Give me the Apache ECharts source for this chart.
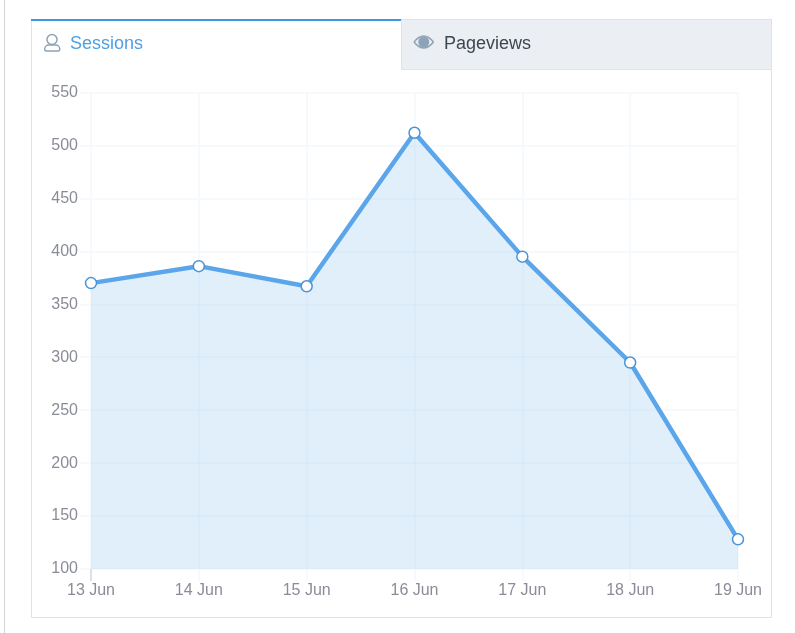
<!DOCTYPE html>
<html><head><meta charset="utf-8">
<style>html,body{margin:0;padding:0;background:#fff}#c{width:795px;height:633px}</style>
<script src="https://cdn.jsdelivr.net/npm/echarts@6/dist/echarts.min.js"></script>
</head><body><div id="c"></div>
<script>
const categories = ['13 Jun','14 Jun','15 Jun','16 Jun','17 Jun','18 Jun','19 Jun'];
const sessions = [370,386,367,512,395,295,128];
const tabLabels = ['Sessions','Pageviews'];
const font = '"Liberation Sans", Arial, sans-serif';
const gridColor = '#f5f8fc';
const chart = echarts.init(document.getElementById('c'), null, {renderer:'canvas'});
const option = {
  animation:false,
  grid:{left:91,top:92.5,width:647,height:476.5,containLabel:false,show:false},
  xAxis:{type:'category',data:categories,boundaryGap:false,
    axisLine:{show:false},
    axisTick:{show:true,alignWithLabel:true,length:12,lineStyle:{color:gridColor,width:1.5}},
    axisLabel:{color:'#8a8d98',fontFamily:font,fontSize:16,margin:14,showMinLabel:true,showMaxLabel:true,hideOverlap:false,interval:0},
    splitLine:{show:true,lineStyle:{color:gridColor,width:1.5}}},
  yAxis:{type:'value',min:100,max:550,interval:50,
    axisLine:{show:false},
    axisTick:{show:true,length:11,lineStyle:{color:gridColor,width:1.5}},
    axisLabel:{color:'#8a8d98',fontFamily:font,fontSize:16,margin:13},
    splitLine:{show:true,lineStyle:{color:gridColor,width:1.5}}},
  series:[{type:'line',data:sessions,showSymbol:true,symbol:'circle',symbolSize:11,
    lineStyle:{color:'#5ba6ea',width:4.5},
    itemStyle:{color:'#fff',borderColor:'#4a94d8',borderWidth:1.5},
    areaStyle:{color:'#5ba6ea',opacity:0.18,origin:'start'},z:3}],
  graphic:[]
};
chart.setOption(option);
const x0 = chart.convertToPixel({xAxisIndex:0},categories[0]);
const yB = chart.convertToPixel({yAxisIndex:0},100);
const iconGray='#8ea3b7';
const stroke={fill:'none',stroke:iconGray,lineWidth:1.5};
chart.setOption({graphic:[
  {type:'rect',z:-1,silent:true,shape:{x:4,y:0,width:1,height:633},style:{fill:'#d4d4d8'}},
  {type:'rect',z:-1,silent:true,shape:{x:31.5,y:19.5,width:740,height:598},style:{fill:'#fff',stroke:'#dbe3ec',lineWidth:1}},
  {type:'rect',z:-1,silent:true,shape:{x:401.5,y:19.5,width:370,height:50},style:{fill:'#ebeef3',stroke:'#dbe3ec',lineWidth:1}},
  {type:'rect',z:5,silent:true,shape:{x:31,y:19,width:370,height:2},style:{fill:'#3d98e0'}},
  {type:'text',z:5,silent:true,x:70,y:44,style:{text:tabLabels[0],fill:'#4f9fe3',font:'18px '+font,verticalAlign:'middle'}},
  {type:'text',z:5,silent:true,x:444,y:44,style:{text:tabLabels[1],fill:'#3f4650',font:'18px '+font,verticalAlign:'middle'}},
  {type:'circle',z:5,silent:true,shape:{cx:52,cy:39.5,r:5},style:stroke},
  {type:'rect',z:5,silent:true,shape:{x:44.75,y:45,width:15,height:6,r:[4,4,1.5,1.5]},style:stroke},
  {type:'bezierCurve',z:5,silent:true,shape:{x1:414,y1:42,x2:433.5,y2:42,cpx1:423.75,cpy1:30},style:stroke},
  {type:'bezierCurve',z:5,silent:true,shape:{x1:414,y1:42,x2:433.5,y2:42,cpx1:423.75,cpy1:54},style:stroke},
  {type:'circle',z:5,silent:true,shape:{cx:423.75,cy:42,r:5.5},style:{fill:iconGray}},
  {type:'rect',z:5,silent:true,shape:{x:x0-0.5,y:yB,width:1,height:12},style:{fill:'#c4c6cc'}}
]});
</script></body></html>
